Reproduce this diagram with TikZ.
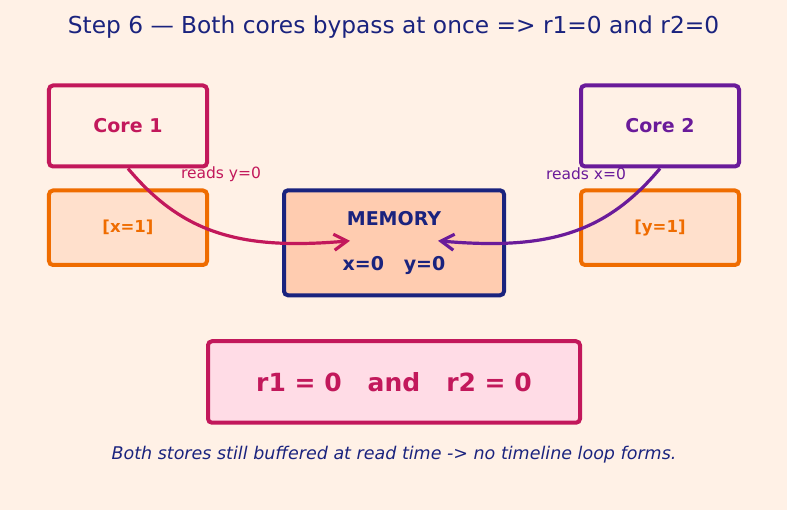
\documentclass[tikz,border=0pt]{standalone}
\usepackage{fontspec}
\setmainfont{DejaVu Sans}
\usepackage{xcolor}
\usetikzlibrary{arrows.meta,positioning}

\definecolor{paper}{HTML}{FFF1E6}
\definecolor{crimson}{HTML}{C2185B}
\definecolor{grape}{HTML}{6A1B9A}
\definecolor{amber}{HTML}{EF6C00}
\definecolor{navy}{HTML}{1A237E}
\definecolor{bufpeach}{HTML}{FFE0CC}
\definecolor{mempeach}{HTML}{FFCCB0}
\definecolor{respink}{HTML}{FFDCE6}

\begin{document}
\begin{tikzpicture}[x=1bp,y=1bp,
  box/.style={draw,line width=4bp,rounded corners=4bp,align=center,fill=paper},
  core/.style={box,minimum width=158bp,minimum height=81bp,
               font=\fontsize{19bp}{23bp}\selectfont\bfseries},
  buffer/.style={box,draw=amber,fill=bufpeach,text=amber,
                 minimum width=158bp,minimum height=74.5bp,
                 font=\fontsize{16.5bp}{20bp}\selectfont\bfseries},
  memory/.style={box,draw=navy,fill=mempeach,text=navy,
                 minimum width=220bp,minimum height=105bp,
                 font=\fontsize{19bp}{23bp}\selectfont\bfseries},
  result/.style={box,draw=crimson,fill=respink,text=crimson,
                 minimum width=372bp,minimum height=81.5bp,
                 font=\fontsize{25bp}{30bp}\selectfont\bfseries},
  lbl/.style={font=\fontsize{15.5bp}{18bp}\selectfont},
  readarr/.style={-{Straight Barb[length=13bp,width=16bp]},line width=3.2bp}]

  \path[fill=paper,use as bounding box] (0,0) rectangle (787,510);

  \node[text=navy,font=\fontsize{23.3bp}{28bp}\selectfont] (title) at (393.5,483)
       {Step 6 — Both cores bypass at once => r1=0 and r2=0};

  % cores with their store buffers
  \node[core,draw=crimson,text=crimson] (core1) at (128,384) {Core 1};
  \node[buffer,below=20bp of core1] (buf1) {[x=1]};
  \node[core,draw=grape,text=grape] (core2) at (660,384) {Core 2};
  \node[buffer,below=20bp of core2] (buf2) {[y=1]};

  \node[memory] (mem) at (394,267.2) {MEMORY\\[22bp]x=0\hspace{1.04em}y=0};
  \coordinate (memL) at ([xshift=-44bp,yshift=2bp]mem.center);
  \coordinate (memR) at ([xshift=44bp,yshift=2bp]mem.center);

  % reads go straight to memory
  \draw[readarr,draw=crimson] (core1.south) to[out=-50,in=185,out distance=85bp,in distance=110bp] (memL);
  \draw[readarr,draw=grape] (core2.south) to[out=230,in=-5,out distance=85bp,in distance=110bp] (memR);
  \node[lbl,text=crimson] (rd1) at (221,336) {reads y=0};
  \node[lbl,text=grape] (rd2) at (586,336) {reads x=0};

  \node[result] (res) at (394,128) {r1 = 0\hspace{1.04em}and\hspace{1.04em}r2 = 0};
  \node[text=navy,font=\fontsize{17.5bp}{21bp}\selectfont\itshape] (note) at (394,55)
       {Both stores still buffered at read time -> no timeline loop forms.};
\end{tikzpicture}
\end{document}
